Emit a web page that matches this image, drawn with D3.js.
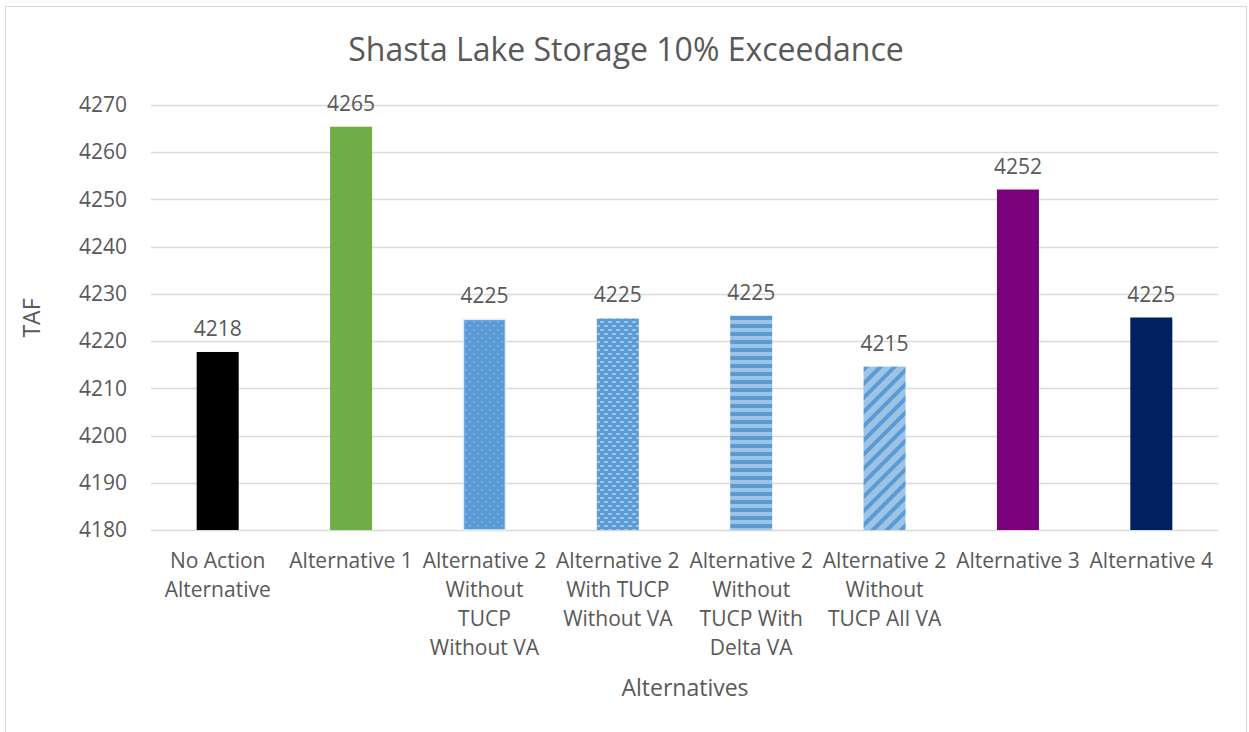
<!DOCTYPE html>
<html>
<head>
<meta charset="utf-8">
<title>Shasta Lake Storage 10% Exceedance</title>
<script src="https://d3js.org/d3.v7.min.js"></script>
<style>
  body { margin: 0; background: #fff; }
  text { font-family: "Open Sans", "Liberation Sans", sans-serif; fill: #595959; }
</style>
</head>
<body>
<script>
// data
var categories = [
  ["No Action", "Alternative"],
  ["Alternative 1"],
  ["Alternative 2", "Without", "TUCP", "Without VA"],
  ["Alternative 2", "With TUCP", "Without VA"],
  ["Alternative 2", "Without", "TUCP With", "Delta VA"],
  ["Alternative 2", "Without", "TUCP All VA"],
  ["Alternative 3"],
  ["Alternative 4"]
];
var storage = [4217.7, 4265.4, 4224.6, 4224.8, 4225.4, 4214.6, 4252.1, 4225.0];
var fills = ["#000000", "#70ad47", "url(#dots)", "url(#bricks)", "url(#hstripes)", "url(#diag)", "#7b007b", "#002060"];
var yTicks = [4180, 4190, 4200, 4210, 4220, 4230, 4240, 4250, 4260, 4270];

var width = 1249, height = 732;
var margin = {left: 151, right: 31, top: 105, bottom: 202};

var svg = d3.select("body").append("svg")
  .attr("width", width)
  .attr("height", height);

// patterns for the Alternative 2 bars
var defs = svg.append("defs");
var blue = "#5b9bd5", light = "#9dc3e6";

var p1 = defs.append("pattern").attr("id", "dots").attr("patternUnits", "userSpaceOnUse")
  .attr("width", 8).attr("height", 8);
p1.append("rect").attr("width", 8).attr("height", 8).attr("fill", blue);
p1.append("rect").attr("x", 1).attr("y", 1).attr("width", 1.4).attr("height", 1.4).attr("fill", light);
p1.append("rect").attr("x", 5).attr("y", 5).attr("width", 1.4).attr("height", 1.4).attr("fill", light);

var p2 = defs.append("pattern").attr("id", "bricks").attr("patternUnits", "userSpaceOnUse")
  .attr("width", 8).attr("height", 8);
p2.append("rect").attr("width", 8).attr("height", 8).attr("fill", blue);
p2.append("rect").attr("x", 0).attr("y", 1).attr("width", 4).attr("height", 2).attr("fill", light);
p2.append("rect").attr("x", 4).attr("y", 5).attr("width", 4).attr("height", 2).attr("fill", light);

var p3 = defs.append("pattern").attr("id", "hstripes").attr("patternUnits", "userSpaceOnUse")
  .attr("width", 8).attr("height", 8);
p3.append("rect").attr("width", 8).attr("height", 8).attr("fill", blue);
p3.append("rect").attr("y", 0).attr("width", 8).attr("height", 4).attr("fill", light);

var p4 = defs.append("pattern").attr("id", "diag").attr("patternUnits", "userSpaceOnUse")
  .attr("width", 10).attr("height", 10).attr("patternTransform", "rotate(45)");
p4.append("rect").attr("width", 10).attr("height", 10).attr("fill", light);
p4.append("rect").attr("width", 4).attr("height", 10).attr("fill", blue);

// chart border
svg.append("rect")
  .attr("x", 5.5).attr("y", 6.5)
  .attr("width", 1241).attr("height", 740)
  .attr("fill", "none").attr("stroke", "#d9d9d9");

var x = d3.scaleBand()
  .domain(d3.range(categories.length))
  .range([margin.left, width - margin.right])
  .paddingInner(0.685).paddingOuter(0.3425);

var y = d3.scaleLinear()
  .domain([4180, 4270])
  .range([height - margin.bottom, margin.top]);

// gridlines
svg.append("g")
  .selectAll("line")
  .data(yTicks)
  .enter().append("line")
  .attr("x1", margin.left).attr("x2", width - margin.right)
  .attr("y1", function(d) { return Math.round(y(d)) + 0.5; })
  .attr("y2", function(d) { return Math.round(y(d)) + 0.5; })
  .attr("stroke", "#d9d9d9").attr("stroke-width", 1.3);

// y axis labels
var yAxis = svg.append("g")
  .attr("transform", "translate(" + margin.left + ",0)")
  .call(d3.axisLeft(y).tickValues(yTicks).tickSize(0).tickPadding(24).tickFormat(d3.format("d")));
yAxis.select(".domain").remove();
yAxis.selectAll("text").style("font-size", "21px").attr("fill", "#595959")
  .style("font-family", "'Open Sans', sans-serif");

// bars
svg.append("g")
  .selectAll("rect")
  .data(storage)
  .enter().append("rect")
  .attr("x", function(d, i) { return x(i); })
  .attr("y", function(d) { return y(d); })
  .attr("width", x.bandwidth())
  .attr("height", function(d) { return y(4180) - y(d); })
  .attr("fill", function(d, i) { return fills[i]; })
  .attr("stroke", function(d, i) { return i === 2 ? "#deebf7" : "none"; })
  .attr("stroke-width", 1.5);

// value labels
svg.append("g")
  .selectAll("text")
  .data(storage)
  .enter().append("text")
  .attr("x", function(d, i) { return x(i) + x.bandwidth() / 2; })
  .attr("y", function(d) { return y(d) - 16; })
  .attr("text-anchor", "middle")
  .style("font-size", "21px")
  .text(function(d) { return d3.format(".0f")(d); });

// category labels
var catG = svg.append("g")
  .selectAll("text")
  .data(categories)
  .enter().append("text")
  .attr("text-anchor", "middle")
  .style("font-size", "21px")
  .attr("x", function(d, i) { return x(i) + x.bandwidth() / 2; })
  .attr("y", 568);
catG.selectAll("tspan")
  .data(function(d) { return d; })
  .enter().append("tspan")
  .attr("x", function() { return d3.select(this.parentNode).attr("x"); })
  .attr("dy", function(d, i) { return i === 0 ? 0 : 29; })
  .text(function(d) { return d; });

// titles
svg.append("text")
  .attr("x", 626).attr("y", 61)
  .attr("text-anchor", "middle")
  .style("font-size", "32px")
  .text("Shasta Lake Storage 10% Exceedance");

svg.append("text")
  .attr("x", 685).attr("y", 696)
  .attr("text-anchor", "middle")
  .style("font-size", "23px")
  .text("Alternatives");

svg.append("text")
  .attr("transform", "translate(40,318) rotate(-90)")
  .attr("text-anchor", "middle")
  .style("font-size", "23px")
  .text("TAF");
</script>
</body>
</html>
